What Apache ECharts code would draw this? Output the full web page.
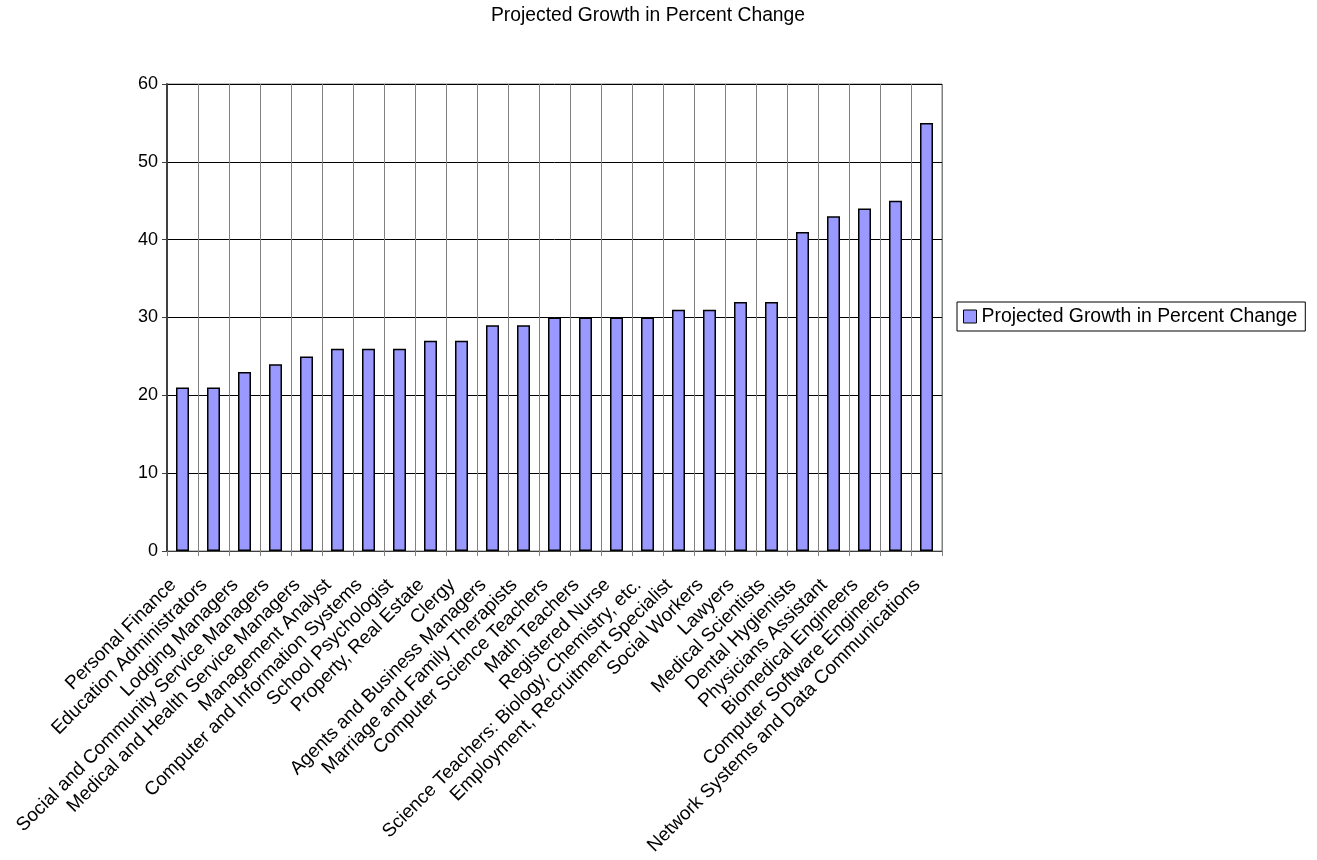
<!DOCTYPE html>
<html>
<head>
<meta charset="utf-8">
<script src="https://cdn.jsdelivr.net/npm/echarts@6/dist/echarts.min.js"></script>
<style>html,body{margin:0;padding:0;background:#fff}#c{width:1317px;height:860px}</style>
</head>
<body>
<div id="c"></div>
<script>
const categories = ["Personal Finance","Education Administrators","Lodging Managers","Social and Community Service Managers","Medical and Health Service Managers","Management Analyst","Computer and Information Systems","School Psychologist","Property, Real Estate","Clergy","Agents and Business Managers","Marriage and Family Therapists","Computer Science Teachers","Math Teachers","Registered Nurse","Science Teachers: Biology, Chemistry, etc.","Employment, Recruitment Specialist","Social Workers","Lawyers","Medical Scientists","Dental Hygienists","Physicians Assistant","Biomedical Engineers","Computer Software Engineers","Network Systems and Data Communications"];
const values = [21,21,23,24,25,26,26,26,27,27,29,29,30,30,30,30,31,31,32,32,41,43,44,45,55];
const seriesName = "Projected Growth in Percent Change";
const titleText = "Projected Growth in Percent Change";

const FONT = "Liberation Sans, Arial, sans-serif";
const chart = echarts.init(document.getElementById('c'), null, {renderer:'canvas'});
chart.setOption({
  animation:false,
  backgroundColor:'#ffffff',
  title:{text:titleText,left:491,top:6,padding:0,textStyle:{fontFamily:FONT,fontSize:19.3,fontWeight:'normal',color:'#000'}},
  grid:{left:167,right:375,top:84,bottom:309,show:true,borderColor:'#808080',borderWidth:1,backgroundColor:'transparent'},
  legend:{
    show:true,left:957,top:302,orient:'vertical',
    padding:[5,8,5,6],borderColor:'#000',borderWidth:1,
    itemWidth:13,itemHeight:13,itemGap:5,icon:'rect',
    itemStyle:{color:'#9999FF',borderColor:'#000',borderWidth:1},
    textStyle:{fontFamily:FONT,fontSize:19.4,color:'#000'},
    data:[seriesName]
  },
  xAxis:{
    type:'category',data:categories,boundaryGap:true,
    axisLine:{show:true,lineStyle:{color:'#404040',width:1}},
    axisTick:{show:true,alignWithLabel:false,interval:0,length:5,lineStyle:{color:'#808080'}},
    splitLine:{show:true,interval:0,lineStyle:{color:'#808080',width:1}},
    axisLabel:{interval:0,rotate:45,margin:22,padding:[0,13,0,0],fontFamily:FONT,fontSize:19,color:'#000'}
  },
  yAxis:{
    type:'value',min:0,max:60,interval:10,
    axisLine:{show:true,lineStyle:{color:'#404040',width:2}},
    axisTick:{show:true,length:5,lineStyle:{color:'#404040'}},
    splitLine:{show:true,lineStyle:{color:'#000',width:1}},
    axisLabel:{margin:9,fontFamily:FONT,fontSize:18,color:'#000'}
  },
  series:[{
    name:seriesName,type:'bar',data:values,barWidth:13,
    itemStyle:{color:'#9999FF',borderColor:'#000',borderWidth:1.5}
  }]
});
</script>
</body>
</html>
